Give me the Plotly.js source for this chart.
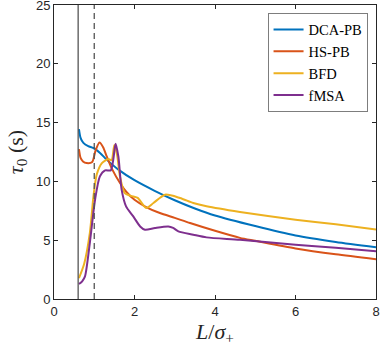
<!DOCTYPE html>
<html>
<head>
<meta charset="utf-8">
<script src="https://cdn.plot.ly/plotly-3.0.1.min.js"></script>
<style>html,body{margin:0;padding:0;background:#fff;}#chart{width:381px;height:353px;}</style>
</head>
<body>
<div id="chart"></div>
<script>
const seriesNames = ["DCA-PB", "HS-PB", "BFD", "fMSA"];
const seriesColors = ["#0072BD", "#D95319", "#EDB120", "#7E2F8E"];

const dcaX = [0.62, 0.66, 0.73, 0.85, 0.98, 1.15, 1.31, 1.6, 2.0, 2.5, 3.0, 3.5, 4.0, 5.0, 6.0, 7.0, 8.0];
const dcaY = [14.45, 13.7, 13.27, 13.0, 12.84, 12.4, 11.85, 11.0, 10.1, 9.2, 8.4, 7.7, 7.1, 6.2, 5.4, 4.85, 4.4];

const hsX = [0.62, 0.66, 0.72, 0.81, 0.95, 1.03, 1.13, 1.22, 1.31, 1.45, 1.64, 1.8, 2.0, 2.3, 2.63, 3.0, 3.38, 4.0, 4.62, 5.0, 6.0, 7.0, 8.0];
const hsY = [12.75, 12.0, 11.7, 11.56, 11.65, 12.6, 13.3, 12.9, 12.13, 11.0, 9.86, 9.1, 8.44, 7.8, 7.31, 6.9, 6.46, 5.8, 5.2, 4.95, 4.3, 3.8, 3.38];

const bfdX = [0.62, 0.75, 0.89, 0.98, 1.06, 1.19, 1.35, 1.43, 1.5, 1.57, 1.64, 1.76, 1.88, 1.97, 2.08, 2.29, 2.47, 2.76, 3.13, 3.46, 3.79, 4.62, 6.0, 7.0, 8.0];
const bfdY = [1.78, 3.0, 5.6, 8.72, 10.57, 11.56, 11.9, 11.8, 13.1, 12.2, 10.4, 9.0, 8.8, 8.72, 8.6, 7.74, 8.16, 8.87, 8.59, 8.16, 7.88, 7.4, 6.74, 6.35, 5.9];

const fmsaX = [0.62, 0.7, 0.77, 0.89, 1.02, 1.14, 1.27, 1.41, 1.47, 1.53, 1.6, 1.68, 1.79, 1.97, 2.14, 2.26, 2.51, 2.84, 2.96, 3.09, 3.46, 3.79, 4.62, 6.0, 7.0, 8.0];
const fmsaY = [1.27, 1.5, 1.92, 4.76, 8.44, 10.43, 10.94, 10.94, 11.8, 13.2, 12.1, 9.3, 7.88, 7.02, 6.17, 5.89, 6.04, 6.17, 6.04, 5.75, 5.47, 5.24, 5.04, 4.62, 4.35, 4.05];

const solidLineX = 0.6;
const dashedLineX = 1.0;

const xTicks = [0, 2, 4, 6, 8];
const yTicks = [0, 5, 10, 15, 20, 25];

const xs = [dcaX, hsX, bfdX, fmsaX];
const ys = [dcaY, hsY, bfdY, fmsaY];

const traces = seriesNames.map((n, i) => ({
  x: xs[i], y: ys[i], name: n, type: 'scatter', mode: 'lines',
  line: {color: seriesColors[i], width: 2, shape: 'spline', smoothing: 0.7}
}));

const axisCommon = {
  showgrid: false, zeroline: false, showline: true, mirror: 'ticks',
  linecolor: '#262626', linewidth: 1, ticks: 'inside', ticklen: 4, tickcolor: '#262626',
  ticklabeloverflow: 'allow',
  tickfont: {family: 'Liberation Sans, Arial, sans-serif', size: 13, color: '#262626'}
};

const layout = {
  width: 381, height: 353,
  margin: {l: 54, r: 5, t: 5, b: 54},
  paper_bgcolor: '#fff', plot_bgcolor: '#fff',
  showlegend: true,
  legend: {
    x: 0.975, y: 0.973, xanchor: 'right', yanchor: 'top',
    bgcolor: '#fff', bordercolor: '#262626', borderwidth: 0.6,
    font: {family: 'Liberation Serif, DejaVu Serif, serif', size: 14.5, color: '#000'},
    tracegroupgap: 0, itemwidth: 30
  },
  xaxis: Object.assign({}, axisCommon, {
    range: [0, 8], tickvals: xTicks, ticktext: xTicks.map(String),
    title: {text: '<i>L</i>/<i>σ</i><sub>+</sub>', font: {family: 'Liberation Serif, DejaVu Serif, serif', size: 22, color: '#262626'}, standoff: 4}
  }),
  yaxis: Object.assign({}, axisCommon, {
    range: [0, 25], tickvals: yTicks, ticktext: yTicks.map(String),
    title: {text: '<i>τ</i><sub>0</sub> (s)', font: {family: 'Liberation Serif, DejaVu Serif, serif', size: 22, color: '#262626'}, standoff: 6}
  }),
  shapes: [
    {type: 'line', xref: 'x', yref: 'paper', x0: solidLineX, x1: solidLineX, y0: 0, y1: 1, line: {color: '#555', width: 1.3}},
    {type: 'line', xref: 'x', yref: 'paper', x0: dashedLineX, x1: dashedLineX, y0: 0, y1: 1, line: {color: '#555', width: 1.3, dash: '6px,4px'}}
  ]
};

Plotly.newPlot('chart', traces, layout, {displayModeBar: false, staticPlot: true});
</script>
</body>
</html>
